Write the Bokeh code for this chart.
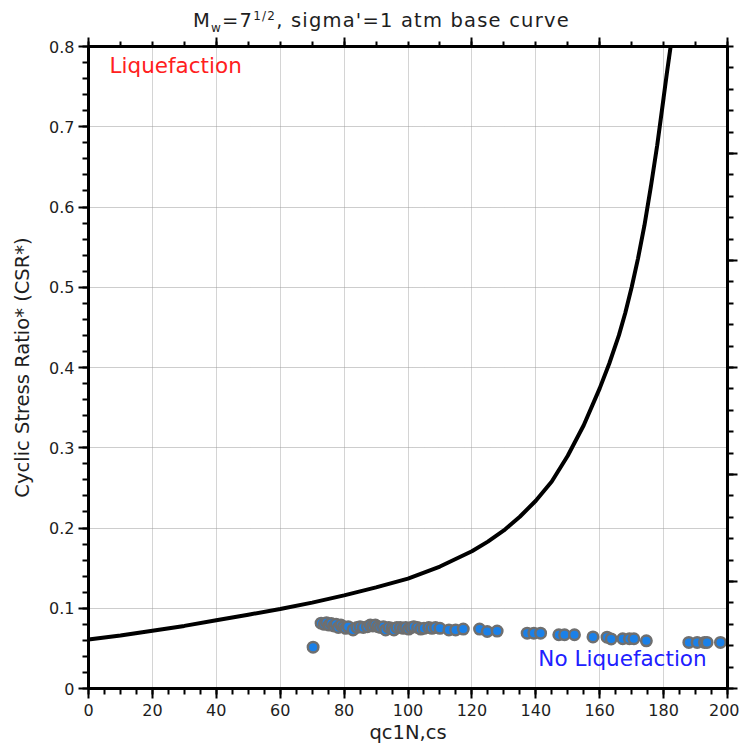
from bokeh.plotting import figure
from bokeh.layouts import column
from bokeh.models import (LinearAxis, FixedTicker, CustomJSTickFormatter, Label, Range1d, Div)
from bokeh.embed import file_html
from bokeh.resources import INLINE

# Base curve
curve_x = [0, 10, 20, 30, 40, 50, 60, 70, 80, 90, 100, 110, 120, 125, 130, 135, 140, 145, 150,
           155, 160, 163, 166, 168, 170, 172, 174, 176, 178, 180, 181, 182.2]
curve_y = [0.061, 0.066, 0.072, 0.078, 0.085, 0.092, 0.099, 0.107, 0.116, 0.126, 0.137, 0.152,
           0.171, 0.183, 0.197, 0.214, 0.234, 0.258, 0.290, 0.328, 0.374, 0.405, 0.440, 0.468,
           0.500, 0.536, 0.577, 0.625, 0.677, 0.736, 0.766, 0.80]

# Case points
pts_x = [70.3, 72.8, 73.8, 74.5, 75.3, 76.0, 76.8, 77.5, 78.2, 79.0, 79.8, 80.5, 81.3, 82.8, 84.0,
         85.0, 86.0, 87.3, 88.2, 89.0, 89.8, 90.6, 91.4, 92.3, 93.0, 94.0, 95.0, 95.6, 96.5, 97.6,
         98.5, 99.3, 100.2, 101.0, 101.8, 103.0, 104.0, 105.0, 106.5, 107.5, 108.6, 110.0, 112.8,
         114.9, 117.3, 122.4, 124.8, 127.9, 137.3, 139.4, 141.5, 147.2, 149.0, 152.1, 157.9, 162.3,
         163.6, 167.2, 169.3, 170.7, 174.6, 187.9, 190.5, 192.8, 193.6, 197.8]
pts_y = [0.0515, 0.0814, 0.080, 0.082, 0.079, 0.081, 0.078, 0.080, 0.076, 0.079, 0.077, 0.075,
         0.077, 0.073, 0.076, 0.077, 0.076, 0.077, 0.079, 0.078, 0.079, 0.077, 0.076, 0.077,
         0.073, 0.076, 0.075, 0.073, 0.076, 0.076, 0.075, 0.076, 0.074, 0.076, 0.077, 0.076,
         0.074, 0.075, 0.076, 0.075, 0.076, 0.075, 0.073, 0.073, 0.074, 0.074, 0.071, 0.0715,
         0.069, 0.069, 0.069, 0.067, 0.067, 0.067, 0.0643, 0.064, 0.0618, 0.062, 0.062, 0.062,
         0.0594, 0.0574, 0.0574, 0.0574, 0.0574, 0.0574]

y_major = [0, 0.1, 0.2, 0.3, 0.4, 0.5, 0.6, 0.7, 0.8]
x_major = [0, 20, 40, 60, 80, 100, 120, 140, 160, 180, 200]

FONT = "DejaVu Sans"
TXT = "#1e1e1e"

title_html = (
    "<span style=\"position:absolute;left:193px;top:11px;white-space:nowrap;"
    "font-family:'DejaVu Sans';font-size:19.5px;letter-spacing:1.2px;color:#1e1e1e;"
    "line-height:1\">M<sub style=\"font-size:12px;line-height:0\">w</sub>=7"
    "<sup style=\"font-size:12px;line-height:0\">1/2</sup>, sigma'=1 atm base curve</span>"
)
title = Div(text=title_html, width=739, height=36, margin=(0, 0, 0, 0),
            styles={"position": "relative"})

p = figure(frame_width=639, frame_height=642, min_border_left=88, min_border_top=10,
           min_border_right=12, min_border_bottom=58,
           x_range=Range1d(0, 200), y_range=Range1d(0, 0.8),
           output_backend="svg", toolbar_location=None, outline_line_color=None,
           margin=(0, 0, 0, 0))

p.xgrid.ticker = FixedTicker(ticks=[20, 40, 60, 80, 100, 120, 140, 160, 180])
p.xgrid.grid_line_color = "#d4d4d4"
p.xgrid.grid_line_width = 1
p.ygrid.ticker = FixedTicker(ticks=[0.1, 0.2, 0.3, 0.4, 0.5, 0.6, 0.7])
p.ygrid.grid_line_color = "#9a9a9a"
p.ygrid.grid_line_dash = "1 1"
p.ygrid.grid_line_width = 1


def style(ax):
    ax.axis_line_width = 3
    ax.axis_line_color = "black"
    ax.major_tick_line_width = 2
    ax.minor_tick_line_width = 2
    ax.major_tick_out = 10
    ax.major_tick_in = 0
    ax.minor_tick_out = 6
    ax.minor_tick_in = 0
    ax.major_label_text_font = FONT
    ax.major_label_text_font_size = "16px"
    ax.major_label_text_color = TXT
    ax.axis_label_text_font = FONT
    ax.axis_label_text_font_size = "19.5px"
    ax.axis_label_text_font_style = "normal"
    ax.axis_label_text_color = TXT


xa = p.xaxis[0]
xa.ticker = FixedTicker(ticks=x_major, minor_ticks=list(range(0, 201, 5)))
xa.axis_label = "qc1N,cs"
xa.axis_label_standoff = 2
xa.major_label_standoff = 5
style(xa)

ya = p.yaxis[0]
ya.ticker = FixedTicker(ticks=y_major, minor_ticks=[i * 0.02 for i in range(41)])
ya.formatter = CustomJSTickFormatter(code="return tick == 0 ? '0' : tick.toFixed(1);")
ya.axis_label = "Cyclic Stress Ratio* (CSR*)"
ya.axis_label_standoff = 12
ya.major_label_standoff = 4
style(ya)

blank = CustomJSTickFormatter(code="return '';")
top = LinearAxis(ticker=FixedTicker(ticks=[0, 40, 80, 120, 160, 200],
                                    minor_ticks=list(range(0, 201, 10))),
                 formatter=blank)
style(top)
top.major_tick_out = 9
top.minor_tick_out = 5
top.major_label_standoff = 0
top.major_label_text_font_size = "0px"
p.add_layout(top, "above")

right = LinearAxis(ticker=FixedTicker(ticks=[i * 0.8 / 6 for i in range(7)],
                                      minor_ticks=[i * 0.8 / 30 for i in range(31)]),
                   formatter=blank)
style(right)
right.major_label_standoff = 0
right.major_label_text_font_size = "0px"
p.add_layout(right, "right")

p.line(curve_x, curve_y, line_color="black", line_width=4)
p.scatter(pts_x, pts_y, size=10.5, fill_color="#1a80e8", line_color="#6f6f6f", line_width=2.5)

p.add_layout(Label(x=6.6, y=0.7605, text="Liquefaction", text_color="#ff2020",
                   text_font=FONT, text_font_size="21.5px"))
p.add_layout(Label(x=140.8, y=0.0224, text="No Liquefaction", text_color="#2020ff",
                   text_font=FONT, text_font_size="21.5px"))

open("out.html", "w").write(file_html(column(title, p, spacing=0), INLINE))
